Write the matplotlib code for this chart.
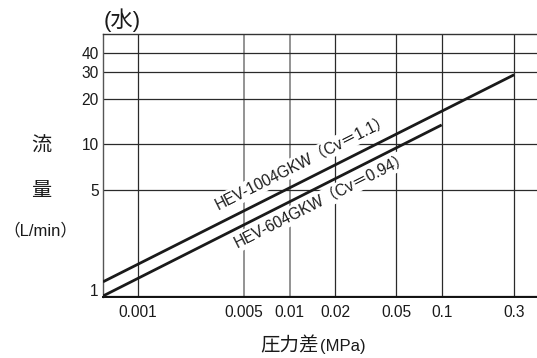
import numpy as np
import matplotlib
matplotlib.use('Agg')
import matplotlib.pyplot as plt

plt.rcParams['font.family'] = ['Liberation Sans', 'Noto Sans CJK JP']

# ---- data ----
dp_1004 = [0.00059, 0.3]
q_1004 = [1.24, 28.7]
dp_604 = [0.00059, 0.1]
q_604 = [1.0, 13.4]
label_1004 = 'HEV-1004GKW（Cv＝1.1）'
label_604 = 'HEV-604GKW（Cv＝0.94）'
x_ticks = [0.001, 0.005, 0.01, 0.02, 0.05, 0.1, 0.3]
x_tick_labels = ['0.001', '0.005', '0.01', '0.02', '0.05', '0.1', '0.3']
y_ticks = [1, 5, 10, 20, 30, 40]
y_tick_labels = ['1', '5', '10', '20', '30', '40']

W, H = 537, 358
fig = plt.figure(figsize=(W / 100, H / 100), dpi=100)
ax = fig.add_axes([103 / W, 1 - 297 / H, (537 - 103) / W, (297 - 34.3) / H])
ax.set_xscale('log')
ax.set_yscale('log')
ax.set_xlim(0.00059, 0.424)
ax.set_ylim(0.985, 53)

ax.set_xticks(x_ticks)
ax.set_xticklabels(x_tick_labels)
ax.set_yticks(y_ticks)
ax.set_yticklabels(y_tick_labels)
ax.minorticks_off()
ax.tick_params(axis='both', length=0, labelsize=11.2, colors='#1a1a1a')
ax.tick_params(axis='x', pad=6)
ax.tick_params(axis='y', pad=3)
ax.grid(True, which='major', color='#2a2a2a', linewidth=0.9, zorder=1)
ax.set_axisbelow(True)
ax.get_yticklabels()[0].set_va('baseline')

# lighter vertical grid lines at 0.005 and 0.01
for tick, val in zip(ax.xaxis.get_major_ticks(), x_ticks):
    if val in (0.005, 0.01):
        tick.gridline.set_color('#808080')
        tick.gridline.set_linewidth(1.2)

ax.spines['right'].set_visible(False)
ax.spines['bottom'].set_linewidth(1.4)
ax.spines['bottom'].set_color('#111111')
ax.spines['left'].set_color('#555555')
ax.spines['left'].set_linewidth(1.0)
ax.spines['top'].set_color('#333333')
ax.spines['top'].set_linewidth(1.0)

ax.plot(dp_1004, q_1004, color='#1a1a1a', linewidth=2.0, solid_capstyle='butt', zorder=6)
ax.plot(dp_604, q_604, color='#1a1a1a', linewidth=2.0, solid_capstyle='butt', zorder=6)

def disp_angle(xs, ys):
    p = ax.transData.transform(np.column_stack([xs, ys]))
    return np.degrees(np.arctan2(p[1, 1] - p[0, 1], p[1, 0] - p[0, 0]))

box = dict(facecolor='white', edgecolor='none', pad=1.5)
ax.text(0.003373, 3.684, label_1004, rotation=disp_angle(dp_1004, q_1004),
        rotation_mode='anchor', ha='left', va='baseline', fontsize=11.2,
        color='#1a1a1a', bbox=box, zorder=4)
ax.text(0.004498, 2.068, label_604, rotation=disp_angle(dp_604, q_604),
        rotation_mode='anchor', ha='left', va='baseline', fontsize=11.2,
        color='#1a1a1a', bbox=box, zorder=4)

# axis titles
fig.text(122.5 / W, 1 - 20 / H, '(水)', fontsize=16, ha='center', va='center', color='#1a1a1a')
fig.text(41 / W, 1 - 146.5 / H, '流', fontsize=14.5, ha='center', va='center',
         family='Noto Sans CJK JP', color='#1a1a1a')
fig.text(41 / W, 1 - 190 / H, '量', fontsize=14.5, ha='center', va='center',
         family='Noto Sans CJK JP', color='#1a1a1a')
fig.text(40 / W, 1 - 230 / H, '（L/min）', fontsize=12, ha='center', va='center', color='#1a1a1a')
fig.text(319 / W, 1 - 346 / H, '圧力差', fontsize=14, ha='right', va='center',
         family='Noto Sans CJK JP', color='#1a1a1a')
fig.text(320 / W, 1 - 346 / H, '(MPa)', fontsize=12, ha='left', va='center', color='#1a1a1a')

fig.savefig('out.png', dpi=100)
